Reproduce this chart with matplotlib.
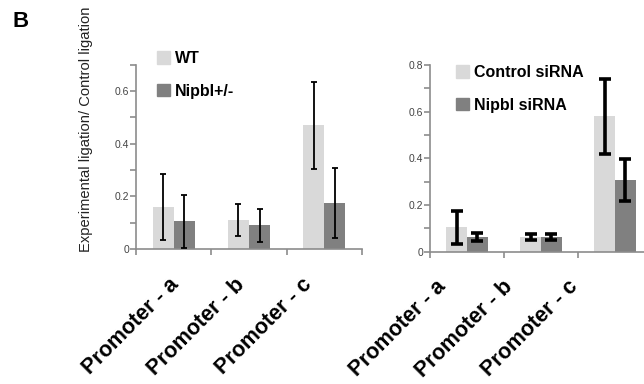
import matplotlib
matplotlib.use("Agg")
import matplotlib.pyplot as plt
import numpy as np
from matplotlib.patches import Patch

plt.rcParams["font.family"] = ["Liberation Sans", "DejaVu Sans"]

categories = ["Promoter - a", "Promoter - b", "Promoter - c"]

# left panel: mouse
left_labels = ["WT", "Nipbl+/-"]
wt_vals = [0.16, 0.11, 0.47]
wt_err = [0.126, 0.06, 0.165]
het_vals = [0.105, 0.09, 0.174]
het_err = [0.10, 0.062, 0.134]

# right panel: siRNA
right_labels = ["Control siRNA", "Nipbl siRNA"]
ctrl_vals = [0.103, 0.063, 0.58]
ctrl_err = [0.069, 0.014, 0.16]
kd_vals = [0.063, 0.063, 0.307]
kd_err = [0.016, 0.012, 0.09]

light = "#d9d9d9"
dark = "#808080"
spine_col = "#8c8c8c"

W, H = 644, 384
fig = plt.figure(figsize=(W / 100, H / 100), dpi=100)


def px_axes(x0, y_top, x1, y_bot):
    return fig.add_axes([x0 / W, 1 - y_bot / H, (x1 - x0) / W, (y_bot - y_top) / H])


def draw_panel(ax, v1, e1, v2, e2, ymax, lw, cap, names, label_pos, leg_xy):
    x = np.arange(len(categories)) + 0.5
    bw = 0.28
    ax.bar(x - bw / 2, v1, bw, color=light, zorder=1)
    ax.bar(x + bw / 2, v2, bw, color=dark, zorder=1)
    for xs, v, e in [(x - bw / 2, v1, e1), (x + bw / 2, v2, e2)]:
        ax.errorbar(xs, v, yerr=e, fmt="none", ecolor="black", elinewidth=lw,
                    capsize=cap, capthick=lw, zorder=3)
    ax.set_xlim(0, 3)
    ax.set_ylim(0, ymax)
    for s in ["top", "right"]:
        ax.spines[s].set_visible(False)
    for s in ["left", "bottom"]:
        ax.spines[s].set_color(spine_col)
        ax.spines[s].set_linewidth(1.2)
    ax.set_xticks([0, 1, 2, 3])
    ax.set_xticklabels([])
    ax.set_xticks(label_pos, minor=True)
    ax.set_xticklabels(categories, minor=True, rotation=45, ha="right", va="top",
                       rotation_mode="anchor", fontsize=15.5, fontweight="bold")
    ax.tick_params(axis="x", which="minor", length=0, pad=18)
    ax.tick_params(axis="x", which="major", length=4, color=spine_col, width=1.2)
    yt = np.round(np.arange(0, ymax + 0.001, 0.1), 1)
    ax.set_yticks(yt)
    ax.set_yticklabels(["0" if t == 0 else (f"{t:g}" if round(t * 10) % 2 == 0 else "") for t in yt])
    ax.tick_params(axis="y", length=4, color=spine_col, width=1.2, labelsize=7.5,
                   labelcolor="#444444", pad=1)
    handles = [Patch(color=light), Patch(color=dark)]
    ax.legend(handles, names, loc="upper left", bbox_to_anchor=(leg_xy[0] / W, 1 - leg_xy[1] / H),
              bbox_transform=fig.transFigure, frameon=False, handlelength=0.8,
              handleheight=0.8, handletextpad=0.35, labelspacing=1.1,
              prop={"weight": "bold", "size": 11.5}, borderpad=0, borderaxespad=0)


axl = px_axes(136, 64.5, 362, 249)
draw_panel(axl, wt_vals, wt_err, het_vals, het_err, 0.7, 1.3, 2.5, left_labels,
           [0.43, 1.30, 2.19], (157, 51))
axl.set_ylabel("Experimental ligation/ Control ligation", fontsize=10.6, color="#222222")
axl.yaxis.set_label_coords(-0.19, 0.65)

axr = px_axes(430, 65, 652, 251.5)
draw_panel(axr, ctrl_vals, ctrl_err, kd_vals, kd_err, 0.8, 2.6, 4, right_labels,
           [0.07, 0.97, 1.86], (456, 65))

fig.text(12 / W, 1 - 11 / H, "B", fontsize=16, fontweight="bold", va="top")

fig.savefig("out.png", dpi=100)
